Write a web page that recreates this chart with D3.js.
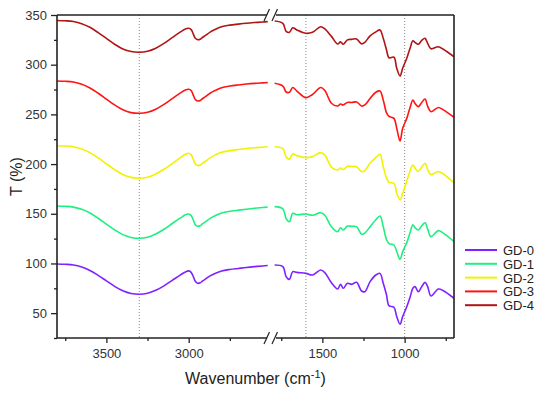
<!DOCTYPE html>
<html>
<head>
<meta charset="utf-8">
<script src="https://cdn.jsdelivr.net/npm/d3@7"></script>
<style>
  body { margin: 0; background: #fff; }
  svg { font-family: Arial, "Liberation Sans", sans-serif; }
</style>
</head>
<body>
<div id="chart"></div>
<script>
// wavenumbers (cm-1), high region and fingerprint region
const wnHigh = [3800, 3750, 3700, 3650, 3600, 3550, 3500, 3450, 3400, 3350, 3300, 3250, 3200, 3150, 3100, 3050, 3020, 3000, 2985, 2970, 2960, 2945, 2930, 2915, 2900, 2870, 2840, 2800, 2750, 2700, 2650, 2600, 2550, 2520];
const wnLow = [1790, 1740, 1720, 1700, 1680, 1655, 1600, 1560, 1510, 1485, 1445, 1407, 1390, 1373, 1348, 1322, 1292, 1262, 1242, 1210, 1175, 1150, 1130, 1110, 1095, 1065, 1048, 1028, 1012, 987, 967, 950, 937, 917, 896, 876, 860, 840, 795, 765, 700];

const names = ["GD-0", "GD-1", "GD-2", "GD-3", "GD-4"];
const colors = ["#7f22ff", "#1ef080", "#f2f200", "#ff1414", "#b01414"];

const gd0High = [99.5, 99.2, 98.5, 96.5, 93, 88, 82.5, 77, 72.5, 69.8, 69, 70, 73, 77.5, 83, 88.5, 91.5, 92.5, 91, 86, 82, 80, 80.5, 82.5, 84, 87.5, 90, 92.5, 94, 95, 96, 96.8, 97.5, 98];
const gd1High = [157.8, 157.5, 156.7, 154.5, 150.8, 145.5, 139.6, 133.8, 129, 126.2, 125.3, 126.4, 129.6, 134.4, 140.2, 145.8, 149, 149.8, 148.3, 143, 139, 137.5, 138, 140, 141.6, 145.3, 148, 150.8, 152.5, 153.6, 154.6, 155.5, 156.3, 156.8];
const gd2High = [218.5, 218.2, 217.4, 215.2, 211.5, 206.2, 200.3, 194.4, 189.5, 186.6, 185.7, 186.8, 190, 194.8, 200.5, 206.5, 209.8, 210.9, 209.5, 204, 200, 198.5, 199, 201, 202.6, 206.3, 209, 211.8, 213.5, 214.6, 215.6, 216.4, 217, 217.4];
const gd3High = [283.6, 283.3, 282.5, 280.3, 276.6, 271.3, 265.4, 259.5, 254.6, 251.8, 251.1, 252.1, 255.2, 260, 265.8, 271.6, 274.6, 275.3, 274, 268.5, 265, 263.5, 264, 266, 267.6, 271.3, 274, 276.8, 278.5, 279.6, 280.5, 281.2, 281.7, 282];
const gd4High = [344.5, 344.2, 343.4, 341.3, 337.6, 332.3, 326.4, 320.6, 315.8, 313.2, 312.5, 313.5, 316.6, 321.4, 327.2, 333, 336, 336.6, 335.3, 330, 326.6, 325.2, 325.7, 327.6, 329.2, 332.8, 335.5, 338.2, 339.8, 340.8, 341.7, 342.4, 343, 343.3];

const gd0Low = [98.5, 96.8, 86.7, 84, 91.8, 91, 90, 88.4, 93.4, 90.8, 80.7, 74.3, 79, 75, 80, 79, 81, 72.3, 71.6, 81.7, 88.4, 90, 80, 68.3, 57.5, 55.9, 46.5, 38.8, 46.5, 56.5, 66, 75, 76.7, 71.6, 76.7, 81, 76.7, 67.3, 74.3, 72.6, 65];
const gd1Low = [157.2, 155, 145, 142, 150.5, 149, 149.8, 148.5, 151.1, 148.5, 137, 132, 136, 133.6, 137.6, 137.3, 137, 129.5, 130.5, 137, 144, 147.8, 137, 124, 120, 118.6, 111.9, 104.2, 111.9, 121, 131, 138.8, 136, 133.7, 138, 141, 134.5, 127, 133, 130.5, 122];
const gd2Low = [217.5, 215.5, 207, 205, 210.2, 208.5, 206.5, 207.5, 211.5, 209, 197, 194, 196, 194.5, 197.8, 197.5, 197.4, 192.5, 193.5, 201, 206.5, 209.8, 197.4, 186, 181.5, 180.7, 170.6, 164, 170.5, 183, 193, 199, 196, 192.5, 197, 200.8, 194.5, 189.4, 192.5, 190, 181.3];
const gd3Low = [281.3, 278.5, 272.5, 272.3, 277, 273.5, 266.8, 270, 277, 274, 261.2, 258.4, 260.4, 259.5, 262, 262, 262.5, 258.4, 259.5, 266, 272.3, 273.5, 264.5, 251.5, 248, 246, 236, 223.2, 236, 246, 257, 264.5, 261, 257.8, 262, 265.5, 258, 252.7, 257, 254.5, 247.1];
const gd4Low = [344, 341.6, 333.5, 332.6, 337.2, 335, 331.6, 332.6, 338.2, 336, 328.5, 320.8, 323, 320.5, 325, 325.5, 325.9, 321, 322.5, 329, 333, 335, 326.6, 314.8, 307, 307.5, 296.4, 288.6, 296.4, 306.5, 316.5, 324, 322.5, 320.5, 324.5, 326.5, 321.5, 316, 318.1, 315.5, 308];

const highSeries = [gd0High, gd1High, gd2High, gd3High, gd4High];
const lowSeries = [gd0Low, gd1Low, gd2Low, gd3Low, gd4Low];

const yTicks = [50, 100, 150, 200, 250, 300, 350];
const yMinor = [25, 75, 125, 175, 225, 275, 325];
const xTicksHigh = [3500, 3000];
const xTicksLow = [1500, 1000];
const xMinorHigh = [3750, 3250, 2750];
const xMinorLow = [1750, 1250, 750];
const refLines = [3300, 1600, 1000];

const width = 550, height = 393;
const m = { left: 57, right: 454, top: 15, bottom: 338 };
const breakL = 271, breakR = 273;

const svg = d3.select("#chart").append("svg")
    .attr("width", width)
    .attr("height", height);

const xHigh = d3.scaleLinear().domain([3800, 2500]).range([m.left, breakL]);
const xLow = d3.scaleLinear().domain([1800, 700]).range([breakR, m.right]);
const x = wn => wn > 2100 ? xHigh(wn) : xLow(wn);

const y = d3.scaleLinear().domain([25, 350]).range([m.bottom, m.top]);

//dotted reference lines
svg.append("g")
    .selectAll("line")
    .data(refLines)
    .join("line")
    .attr("x1", d => x(d))
    .attr("x2", d => x(d))
    .attr("y1", m.top)
    .attr("y2", m.bottom)
    .attr("stroke", "#8a8a8a")
    .attr("stroke-width", 1)
    .attr("stroke-dasharray", "1,2");

//spectra
const line = d3.line()
    .x(d => x(d[0]))
    .y(d => y(d[1]))
    .curve(d3.curveCatmullRom.alpha(0.5));

const curves = svg.append("g");
names.forEach((name, i) => {
    curves.append("path")
        .datum(wnHigh.map((w, j) => [w, highSeries[i][j]]))
        .attr("d", line)
        .attr("fill", "none")
        .attr("stroke", colors[i])
        .attr("stroke-width", 1.6);
    curves.append("path")
        .datum(wnLow.map((w, j) => [w, lowSeries[i][j]]))
        .attr("d", line)
        .attr("fill", "none")
        .attr("stroke", colors[i])
        .attr("stroke-width", 1.6);
});

//axes
const fmt = d3.format("d");
const gx1 = svg.append("g")
    .attr("transform", `translate(0,${m.bottom})`)
    .call(d3.axisBottom(xHigh).tickValues(xTicksHigh).tickFormat(fmt).tickSize(5).tickPadding(6));
const gx2 = svg.append("g")
    .attr("transform", `translate(0,${m.bottom})`)
    .call(d3.axisBottom(xLow).tickValues(xTicksLow).tickFormat(fmt).tickSize(5).tickPadding(6));
const gx3 = svg.append("g")
    .attr("transform", `translate(0,${m.bottom})`)
    .call(d3.axisBottom(xHigh).tickValues(xMinorHigh).tickSize(3).tickFormat(""));
const gx4 = svg.append("g")
    .attr("transform", `translate(0,${m.bottom})`)
    .call(d3.axisBottom(xLow).tickValues(xMinorLow).tickSize(3).tickFormat(""));
const gy1 = svg.append("g")
    .attr("transform", `translate(${m.left},0)`)
    .call(d3.axisLeft(y).tickValues(yTicks).tickFormat(fmt).tickSize(6).tickPadding(4));
const gy2 = svg.append("g")
    .attr("transform", `translate(${m.left},0)`)
    .call(d3.axisLeft(y).tickValues(yMinor).tickSize(3).tickFormat(""));

[gx1, gx2, gx3, gx4, gy1, gy2].forEach(g => {
    g.select(".domain").remove();
    g.selectAll("line").attr("stroke", "#222").attr("stroke-width", 1.3);
    g.selectAll("text").style("font-size", "13px").attr("fill", "#333");
});

//frame with break
const frame = svg.append("g").attr("stroke", "#222").attr("stroke-width", 1.6).attr("fill", "none");
frame.append("line").attr("x1", m.left).attr("x2", m.left).attr("y1", m.top).attr("y2", m.bottom);
frame.append("line").attr("x1", m.right).attr("x2", m.right).attr("y1", m.top).attr("y2", m.bottom);
[m.top, m.bottom].forEach(yy => {
    frame.append("line").attr("x1", m.left).attr("x2", 267).attr("y1", yy).attr("y2", yy);
    frame.append("line").attr("x1", 276).attr("x2", m.right).attr("y1", yy).attr("y2", yy);
    frame.append("line").attr("x1", 264).attr("x2", 269.5).attr("y1", yy + 6).attr("y2", yy - 6).attr("stroke-width", 1.2);
    frame.append("line").attr("x1", 272).attr("x2", 277.5).attr("y1", yy + 6).attr("y2", yy - 6).attr("stroke-width", 1.2);
});

//axis titles
svg.append("text")
    .attr("transform", `translate(22,${(m.top + m.bottom) / 2}) rotate(-90)`)
    .attr("text-anchor", "middle")
    .style("font-size", "16px")
    .attr("fill", "#222")
    .text("T (%)");

const xt = svg.append("text")
    .attr("x", (m.left + m.right) / 2)
    .attr("y", 384)
    .attr("text-anchor", "middle")
    .style("font-size", "16px")
    .attr("fill", "#222");
xt.append("tspan").text("Wavenumber (cm");
xt.append("tspan").attr("dy", -6).style("font-size", "11px").text("-1");
xt.append("tspan").attr("dy", 6).text(")");

//legend
const legend = svg.append("g").attr("transform", "translate(465,250)");
names.forEach((name, i) => {
    const row = legend.append("g").attr("transform", `translate(0,${i * 13.8})`);
    row.append("line")
        .attr("x1", 0).attr("x2", 32)
        .attr("stroke", colors[i])
        .attr("stroke-width", 2);
    row.append("text")
        .attr("x", 38)
        .attr("y", 5)
        .style("font-size", "13px")
        .attr("fill", "#222")
        .text(name);
});
</script>
</body>
</html>
